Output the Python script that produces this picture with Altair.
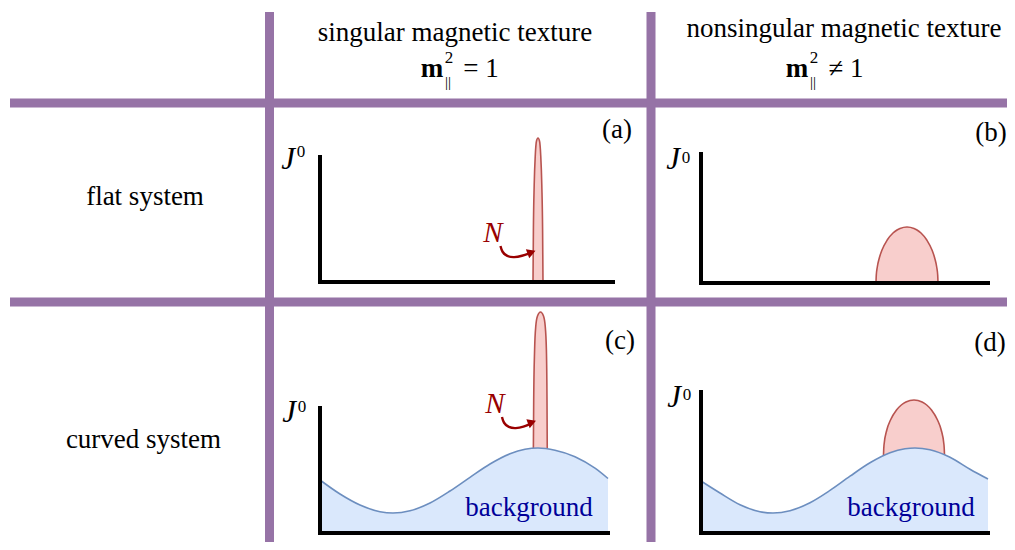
import altair as alt
import pandas as pd

# ---------------- data (canvas pixel units) ----------------
# divider grid (purple)
grid_x = [10, 10, 269.5, 651]
grid_x2 = [1007, 1007, 269.5, 651]
grid_y = [103, 302, 12, 12]
grid_y2 = [103, 302, 550, 550]

# panel axes (black)
axis_x = [320, 320, 701, 701, 320, 320, 701, 701]
axis_x2 = [320, 613, 701, 988, 320, 608, 701, 988]
axis_y = [157, 282, 154, 283, 408, 533, 392, 533]
axis_y2 = [282, 282, 283, 283, 533, 533, 533, 533]

# red peaks: (a) narrow spike, (b) broad bump, (c) spike on background, (d) bump on background
peak_a_x = [533, 533.4, 534.2, 535.3, 536.5, 538, 539.5, 540.7, 541.8, 542.6, 543]
peak_a_y = [282, 230, 185, 155, 141, 138, 141, 155, 185, 230, 282]
peak_b_x = [876, 876.3, 877.3, 879.3, 882, 887.2, 893, 897, 900, 907,
            914, 917, 921, 926.8, 932, 934.7, 936.7, 937.7, 938]
peak_b_y = [283, 275, 267, 258, 250, 240, 233, 230, 228.5, 227,
            228.5, 230, 233, 240, 250, 258, 267, 275, 283]
peak_c_x = [533.3, 533.7, 534.6, 535.8, 537.5, 540.5, 543.5, 545.2, 546.4, 547, 547.3]
peak_c_y = [460, 400, 350, 326, 316, 312, 316, 326, 350, 400, 460]
peak_d_x = [883.3, 883.5, 884, 886.8, 890.5, 896.5, 901.3, 905.9, 914,
            922.1, 926.7, 931.5, 937.5, 941.2, 944, 944.5, 944.7]
peak_d_y = [470, 455, 445, 430, 420, 410, 405, 402, 400,
            402, 405, 410, 420, 430, 445, 455, 470]
peak_base = {"a": 282, "b": 283, "c": 470, "d": 475}

# blue background curves (c) and (d)
bg_c_x = [320, 340, 360, 380, 393, 410, 430, 450, 470, 490, 510, 525, 538, 555, 575, 595, 608]
bg_c_y = [480, 494, 505, 511.7, 513, 510.8, 503, 491, 477.3, 464, 453.8, 449.3, 448, 450.2, 456.7, 468.2, 478.5]
bg_d_x = [701, 720, 740, 760, 773, 790, 810, 830, 850, 870, 890, 905, 915, 930, 950, 970, 988]
bg_d_y = [481, 493, 504.7, 511.7, 513, 510.7, 502.7, 490.4, 476.2, 462.8, 452.8, 448.8, 448, 449.8, 457.3, 469.2, 479]
bg_floor = 533

# curved arrows pointing at the spikes (a) and (c)
arrow_a_x = [500.5, 502, 507, 514, 522, 530]
arrow_a_y = [246, 252, 256.5, 257.5, 256, 253]
arrow_c_x = [502, 503.5, 508.5, 515.5, 523.5, 531]
arrow_c_y = [417, 423, 427.5, 428.5, 427, 423.5]
head_x = [531.5, 532]
head_y = [252.3, 422.3]

# texts
plain_t = ["singular magnetic texture", "nonsingular magnetic texture", "= 1", "\u2260 1",
           "flat system", "curved system", "(a)", "(b)", "(c)", "(d)"]
plain_x = [455, 844, 481, 846, 145, 143.5, 617, 991, 620, 990]
plain_y = [41, 37, 77, 77, 205, 448, 138, 141, 349, 351]

bold_t = ["m", "m"]
bold_x = [432, 797]
bold_y = [77, 77]

sup2_t = ["2", "2"]
sup2_x = [449, 814]
sup2_y = [63, 63]

par_t = ["||", "||"]
par_x = [448, 813]
par_y = [87, 87]

j_t = ["J", "J", "J", "J"]
j_x = [288, 673, 289, 674]
j_y = [169, 169, 422, 407]
zero_t = ["0", "0", "0", "0"]
zero_x = [301, 686, 302, 687]
zero_y = [157, 163, 412, 400]

n_t = ["N", "N"]
n_x = [493, 495]
n_y = [242, 413]

bgtext_t = ["background", "background"]
bgtext_x = [529, 911]
bgtext_y = [516, 516]

# ---------------- colours ----------------
PURPLE = "#9673a6"
RED_FILL, RED_LINE = "#f8cecc", "#b85450"
BLUE_FILL, BLUE_LINE = "#dae8fc", "#6c8ebf"
DARK_RED = "#990000"
DARK_BLUE = "#000099"
SERIF = "Liberation Serif"

xs = alt.Scale(domain=[8, 1007], nice=False, zero=False)
ys = alt.Scale(domain=[8, 542], nice=False, zero=False, reverse=True)
X = lambda f="x": alt.X(f"{f}:Q", scale=xs, axis=None)
Y = lambda f="y": alt.Y(f"{f}:Q", scale=ys, axis=None)

# ---------------- build tables ----------------
grid_df = pd.DataFrame({"x": grid_x, "x2": grid_x2, "y": grid_y, "y2": grid_y2})
axis_df = pd.DataFrame({"x": axis_x, "x2": axis_x2, "y": axis_y, "y2": axis_y2})

rows = []
for key, px, py in [("a", peak_a_x, peak_a_y), ("b", peak_b_x, peak_b_y),
                    ("c", peak_c_x, peak_c_y), ("d", peak_d_x, peak_d_y)]:
    for xv, yv in zip(px, py):
        rows.append({"panel": key, "x": xv, "y": yv, "y2": peak_base[key]})
peaks_df = pd.DataFrame(rows)

rows = []
for key, bx, by in [("c", bg_c_x, bg_c_y), ("d", bg_d_x, bg_d_y)]:
    for xv, yv in zip(bx, by):
        rows.append({"panel": key, "x": xv, "y": yv, "y2": bg_floor})
bg_df = pd.DataFrame(rows)

rows = []
for key, ax, ay in [("a", arrow_a_x, arrow_a_y), ("c", arrow_c_x, arrow_c_y)]:
    for xv, yv in zip(ax, ay):
        rows.append({"panel": key, "x": xv, "y": yv})
arrow_df = pd.DataFrame(rows)
head_df = pd.DataFrame({"x": head_x, "y": head_y})


def tdf(t, x, y):
    return pd.DataFrame({"t": t, "x": x, "y": y})


def text_layer(df, **kw):
    return alt.Chart(df).mark_text(baseline="alphabetic", align="center", **kw).encode(
        x=X(), y=Y(), text="t:N")


# ---------------- layers ----------------
grid = alt.Chart(grid_df).mark_rule(color=PURPLE, strokeWidth=9).encode(
    x=X(), x2="x2:Q", y=Y(), y2="y2:Q")

peaks = alt.Chart(peaks_df).mark_area(
    fill=RED_FILL, stroke=RED_LINE, strokeWidth=1.6, interpolate="monotone"
).encode(x=X(), y=Y(), y2="y2:Q", detail="panel:N")

bg_area = alt.Chart(bg_df).mark_area(fill=BLUE_FILL, interpolate="monotone").encode(
    x=X(), y=Y(), y2="y2:Q", detail="panel:N")
bg_line = alt.Chart(bg_df).mark_line(color=BLUE_LINE, strokeWidth=1.6, interpolate="monotone").encode(
    x=X(), y=Y(), detail="panel:N")

axes = alt.Chart(axis_df).mark_rule(color="black", strokeWidth=4, strokeCap="square").encode(
    x=X(), x2="x2:Q", y=Y(), y2="y2:Q")

arrows = alt.Chart(arrow_df).mark_line(color=DARK_RED, strokeWidth=2.4, interpolate="basis").encode(
    x=X(), y=Y(), detail="panel:N")
heads = alt.Chart(head_df).mark_point(
    shape="triangle-right", filled=True, color=DARK_RED, opacity=1, size=95, angle=340
).encode(x=X(), y=Y())

texts = [
    text_layer(tdf(plain_t, plain_x, plain_y), font=SERIF, fontSize=27, color="black"),
    text_layer(tdf(bold_t, bold_x, bold_y), font=SERIF, fontSize=27, fontWeight="bold", color="black"),
    text_layer(tdf(sup2_t, sup2_x, sup2_y), font=SERIF, fontSize=17, color="black"),
    text_layer(tdf(par_t, par_x, par_y), font=SERIF, fontSize=15, color="black"),
    text_layer(tdf(j_t, j_x, j_y), font=SERIF, fontSize=31, fontStyle="italic", color="black"),
    text_layer(tdf(zero_t, zero_x, zero_y), font=SERIF, fontSize=17, color="black"),
    text_layer(tdf(n_t, n_x, n_y), font=SERIF, fontSize=29, fontStyle="italic", color=DARK_RED),
    text_layer(tdf(bgtext_t, bgtext_x, bgtext_y), font=SERIF, fontSize=27, color=DARK_BLUE),
]

chart = alt.layer(grid, peaks, bg_area, bg_line, axes, arrows, heads, *texts).properties(
    width=999, height=534, padding=0, background="white",
    autosize=alt.AutoSizeParams(type="none")
).configure_view(stroke=None)

chart.save("out.html", embed_options={"renderer": "svg", "actions": False})
